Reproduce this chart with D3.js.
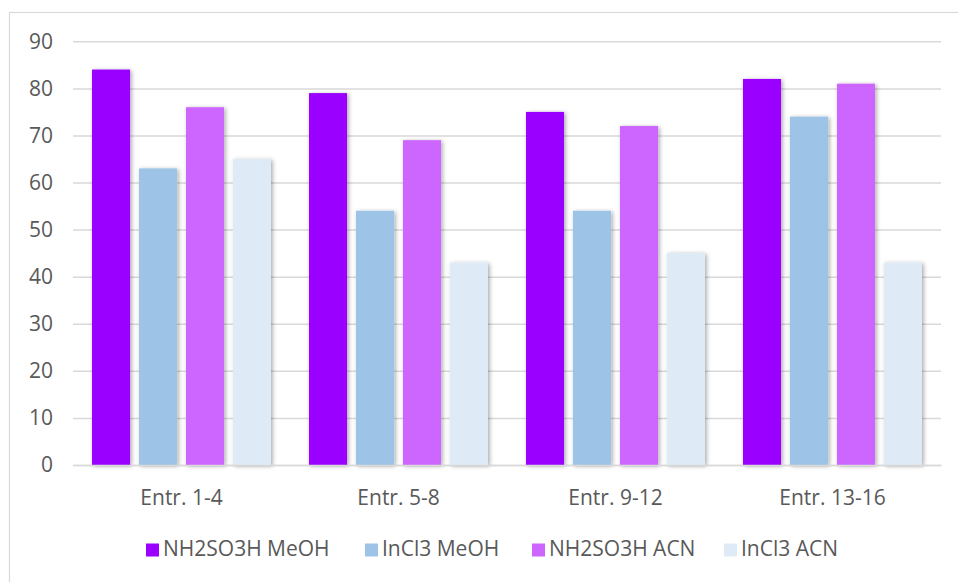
<!DOCTYPE html>
<html><head><meta charset="utf-8">
<script src="https://cdn.jsdelivr.net/npm/d3@7"></script>
<style>html,body{margin:0;padding:0;background:#fff;}svg{display:block;}</style>
</head><body>
<script>
const categories = ["Entr. 1-4", "Entr. 5-8", "Entr. 9-12", "Entr. 13-16"];
const seriesNames = ["NH2SO3H MeOH", "InCl3 MeOH", "NH2SO3H ACN", "InCl3 ACN"];
const nh2so3hMeOH = [84, 79, 75, 82];
const incl3MeOH = [63, 54, 54, 74];
const nh2so3hACN = [76, 69, 72, 81];
const incl3ACN = [65, 43, 45, 43];
const yTicks = [0, 10, 20, 30, 40, 50, 60, 70, 80, 90];
const colors = ["#9900FF", "#9DC3E6", "#CC66FF", "#DEEBF7"];
const seriesValues = [nh2so3hMeOH, incl3MeOH, nh2so3hACN, incl3ACN];

const W = 958, H = 582;
const svg = d3.select("body").append("svg").attr("width", W).attr("height", H);
const font = "'Open Sans', 'Noto Sans', sans-serif";
const fs = 21;

const defs = svg.append("defs");
const f = defs.append("filter").attr("id", "sh").attr("x", "-20%").attr("y", "-20%").attr("width", "140%").attr("height", "140%");
f.append("feDropShadow").attr("dx", 1.5).attr("dy", 1).attr("stdDeviation", 2).attr("flood-color", "#000").attr("flood-opacity", 0.35);

// chart border
svg.append("rect").attr("x", 9.5).attr("y", 12.5).attr("width", 960).attr("height", 600)
  .attr("fill", "none").attr("stroke", "#d9d9d9").attr("stroke-width", 1.2);

const x0 = d3.scaleBand().domain(categories).range([73, 941]).paddingInner(0).paddingOuter(0);
const y = d3.scaleLinear().domain([0, 90]).range([465, 41.3]);
const x1 = d3.scaleBand().domain(seriesNames).range([19, x0.bandwidth() - 19]).paddingInner(0.19);

// gridlines + y labels
const gAxis = svg.append("g").attr("transform", "translate(73,0)")
  .call(d3.axisLeft(y).tickValues(yTicks).tickSize(-868).tickPadding(20));
gAxis.select(".domain").remove();
gAxis.selectAll(".tick line").attr("stroke", "#d9d9d9").attr("stroke-width", 1.5);
gAxis.selectAll(".tick text").attr("font-family", font).attr("font-size", fs).attr("fill", "#595959");

// bars
const groups = svg.append("g").selectAll("g").data(categories).join("g")
  .attr("transform", d => `translate(${x0(d)},0)`);
groups.selectAll("rect").data((c, ci) => seriesNames.map((s, si) => ({s, si, v: seriesValues[si][ci]})))
  .join("rect")
  .attr("x", d => x1(d.s)).attr("width", x1.bandwidth())
  .attr("y", d => y(d.v)).attr("height", d => y(0) - y(d.v))
  .attr("fill", d => colors[d.si]).attr("filter", "url(#sh)");

// x axis
const xAxis = svg.append("g").attr("transform", "translate(0,465)")
  .call(d3.axisBottom(x0).tickSize(0).tickPadding(25));
xAxis.select(".domain").attr("stroke", "#d9d9d9").attr("stroke-width", 1.5);
xAxis.selectAll(".tick text").attr("font-family", font).attr("font-size", fs).attr("fill", "#595959");

// legend
const legendX = [146, 365, 532, 724];
const lg = svg.append("g").selectAll("g").data(seriesNames).join("g")
  .attr("transform", (d, i) => `translate(${legendX[i]},0)`);
lg.append("rect").attr("x", 0).attr("y", 543.5).attr("width", 13).attr("height", 13).attr("fill", (d, i) => colors[i]);
lg.append("text").attr("x", 17).attr("y", 556).text(d => d)
  .attr("font-family", font).attr("font-size", fs).attr("fill", "#595959");
</script>
</body></html>
